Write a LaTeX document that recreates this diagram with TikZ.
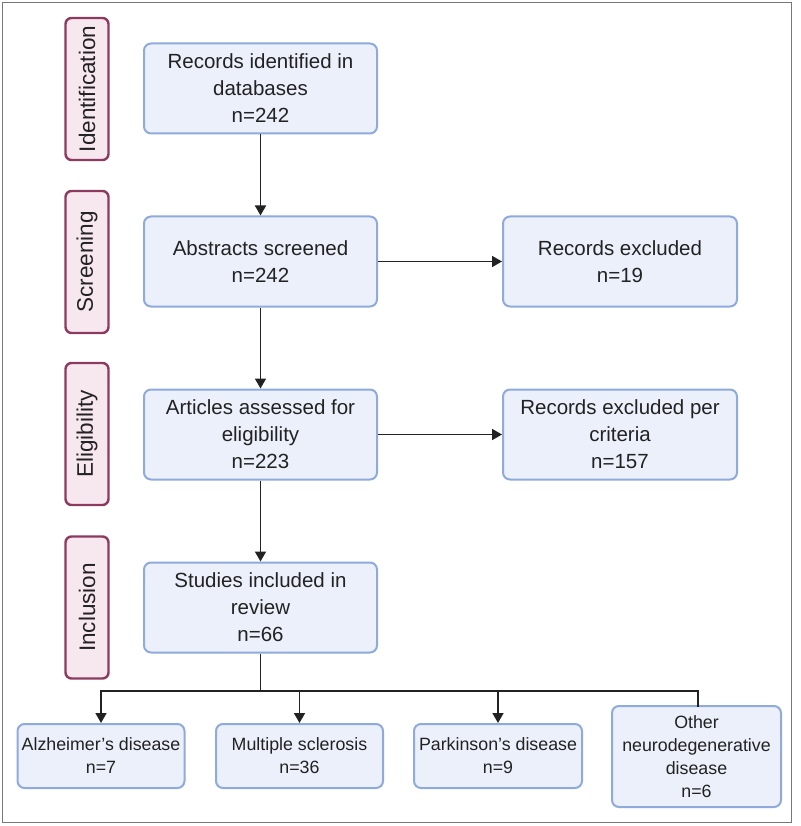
\documentclass[tikz,border=0pt]{standalone}
\usepackage{fontspec}
\setmainfont{Liberation Sans}
\usetikzlibrary{arrows.meta}
\definecolor{boxfill}{HTML}{EBF0FA}
\definecolor{boxdraw}{HTML}{8FAADC}
\definecolor{tagfill}{HTML}{F7E8EF}
\definecolor{tagdraw}{HTML}{8C3A5F}
\definecolor{txt}{HTML}{222222}
\definecolor{frame}{HTML}{777777}
\tikzset{
  mainbox/.style={draw=boxdraw, fill=boxfill, line width=2pt, rounded corners=7pt,
    minimum width=233pt, minimum height=90pt, inner sep=0pt, align=center,
    text=txt, font=\fontsize{20.5pt}{27pt}\selectfont},
  subbox/.style={draw=boxdraw, fill=boxfill, line width=2pt, rounded corners=7pt,
    minimum width=167pt, minimum height=64pt, inner sep=0pt, align=center,
    text=txt, font=\fontsize{17.8pt}{23pt}\selectfont},
  tagbox/.style={draw=tagdraw, fill=tagfill, line width=2.4pt, rounded corners=6pt,
    minimum width=142pt, minimum height=43pt, inner sep=0pt, rotate=90,
    text=txt, font=\fontsize{22.5pt}{26pt}\selectfont},
  conn/.style={draw=txt, line width=1.7pt},
  arr/.style={conn, -{Triangle[length=10pt, width=11pt]}}
}
\begin{document}
\begin{tikzpicture}[x=1pt, y=-1pt]
\useasboundingbox (0,0) rectangle (800,826);
\draw[frame, line width=1pt] (2.5,2.5) rectangle (791,822.5);

% side tags
\node[tagbox] (tid) at (87,89) {Identification};
\node[tagbox] (tsc) at (87,262) {Screening};
\node[tagbox] (tel) at (87,434) {Eligibility};
\node[tagbox] (tin) at (87,607.5) {Inclusion};

% main column
\node[mainbox] (rec) at (260.5,88.5) {Records identified in\\databases\\n=242};
\node[mainbox] (abs) at (260.5,261.5) {Abstracts screened\\n=242};
\node[mainbox] (art) at (260.5,434.5) {Articles assessed for\\eligibility\\n=223};
\node[mainbox] (stu) at (260.5,607.5) {Studies included in\\review\\n=66};

% right column
\node[mainbox, minimum width=234pt] (exc) at (620,261.5) {Records excluded\\n=19};
\node[mainbox, minimum width=234pt] (exp) at (620,434.5) {Records excluded per\\criteria\\n=157};

% bottom row
\node[subbox] (alz) at (101,756) {Alzheimer's disease\\n=7};
\node[subbox] (ms) at (299.5,756) {Multiple sclerosis\\n=36};
\node[subbox, minimum width=168pt] (pd) at (498,756) {Parkinson's disease\\n=9};
\node[subbox, minimum width=169pt, minimum height=101pt] (oth) at (696.5,756.5) {Other\\neurodegenerative\\disease\\n=6};

% connectors
\draw[arr] (rec.south) -- (abs.north);
\draw[arr] (abs.south) -- (art.north);
\draw[arr] (art.south) -- (stu.north);
\draw[arr] (abs.east) -- (exc.west);
\draw[arr] (art.east) -- (exp.west);

\coordinate (br) at (260.5,691);
\coordinate (brl) at (101,691);
\coordinate (brr) at (698,691);
\coordinate (othtop) at (698,706);
\draw[conn] (stu.south) -- (br);
\draw[conn, line cap=rect] (brl) -- (brr) -- (othtop);
\draw[arr] (brl) -- (alz.north);
\draw[arr] (ms.north |- br) -- (ms.north);
\draw[arr] (pd.north |- br) -- (pd.north);
\end{tikzpicture}
\end{document}
